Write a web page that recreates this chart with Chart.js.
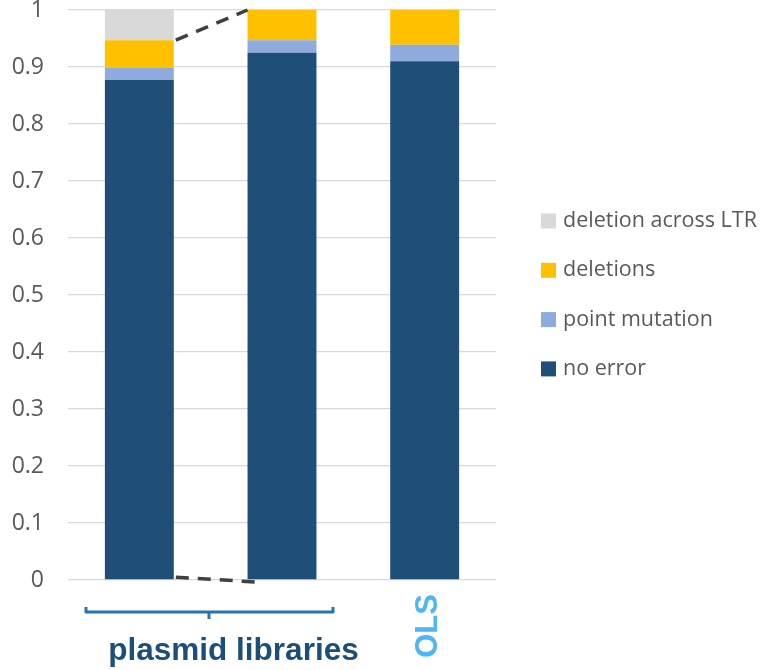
<!DOCTYPE html>
<html>
<head>
<meta charset="utf-8">
<script src="https://cdn.jsdelivr.net/npm/chart.js@4.4.1/dist/chart.umd.min.js"></script>
<style>
  html, body { margin: 0; padding: 0; background: #fff; }
  #wrap { position: relative; width: 770px; height: 670px; }
  canvas { position: absolute; left: 0; top: 0; }
</style>
</head>
<body>
<div id="wrap"><canvas id="c" width="770" height="670"></canvas></div>
<script>
const categories = ["plasmid 1", "plasmid 2", "OLS"];
const noError = [0.877, 0.925, 0.910];
const pointMutation = [0.022, 0.022, 0.029];
const deletions = [0.048, 0.053, 0.061];
const deletionAcrossLTR = [0.053, 0, 0];
const yTicks = [0, 0.1, 0.2, 0.3, 0.4, 0.5, 0.6, 0.7, 0.8, 0.9, 1];
const seriesNames = ["no error", "point mutation", "deletions", "deletion across LTR"];
const seriesColors = ["#1F4E79", "#8FAADC", "#FFC000", "#D9D9D9"];
const groupLabel = "plasmid libraries";
const olsLabel = "OLS";

const TEXT_GREY = "#595959";

const overlay = {
  id: "overlay",
  afterDatasetsDraw(chart) {
    const ctx = chart.ctx;
    const ys = chart.scales.y;
    const meta0 = chart.getDatasetMeta(0);
    const b1 = meta0.data[0], b2 = meta0.data[1];
    const b1r = b1.x + b1.width / 2, b2l = b2.x - b2.width / 2;
    const top1 = noError[0] + pointMutation[0] + deletions[0];
    ctx.save();
    ctx.strokeStyle = "#404040";
    ctx.lineWidth = 3.5;
    ctx.setLineDash([13, 9]);
    ctx.beginPath();
    ctx.moveTo(b1r + 2, ys.getPixelForValue(top1));
    ctx.lineTo(b2l, ys.getPixelForValue(1));
    ctx.stroke();
    ctx.beginPath();
    ctx.moveTo(b1r + 2, ys.getPixelForValue(0.005));
    ctx.lineTo(b2l + 13, ys.getPixelForValue(-0.004));
    ctx.stroke();
    ctx.restore();

    // legend
    ctx.save();
    ctx.font = "21.5px 'Open Sans'";
    ctx.textBaseline = "middle";
    const lx = 541, ly0 = 221, step = 49.3;
    for (let i = 0; i < 4; i++) {
      const si = 3 - i;
      const y = ly0 + i * step;
      ctx.fillStyle = seriesColors[si];
      ctx.fillRect(lx, y - 7.5, 15, 15);
      ctx.fillStyle = TEXT_GREY;
      ctx.fillText(seriesNames[si], lx + 22, y);
    }
    ctx.restore();

    // bracket
    const bl = 86, br = 333, by = 612;
    const bc = (bl + br) / 2 - 0.5;
    ctx.save();
    ctx.strokeStyle = "#2473B3";
    ctx.lineWidth = 3;
    ctx.lineJoin = "round";
    ctx.beginPath();
    ctx.moveTo(bl, by - 5);
    ctx.lineTo(bl, by);
    ctx.lineTo(br, by);
    ctx.lineTo(br, by - 5);
    ctx.moveTo(bc, by);
    ctx.lineTo(bc, by + 7);
    ctx.stroke();

    ctx.fillStyle = "#1B4F78";
    ctx.font = "bold 31.5px 'Liberation Sans'";
    ctx.textAlign = "center";
    ctx.textBaseline = "alphabetic";
    ctx.fillText(groupLabel, 233.5, 660);

    const meta2 = chart.getDatasetMeta(0).data[2];
    ctx.font = "bold 31px 'Liberation Sans'";
    ctx.translate(meta2.x + 12, 626);
    ctx.rotate(-Math.PI / 2);
    ctx.fillStyle = "#4DB6F7";
    ctx.textAlign = "center";
    ctx.textBaseline = "alphabetic";
    ctx.fillText(olsLabel, 0, 0);
    ctx.restore();
  }
};

new Chart(document.getElementById("c"), {
  type: "bar",
  data: {
    labels: categories,
    datasets: [noError, pointMutation, deletions, deletionAcrossLTR].map((d, i) => ({
      label: seriesNames[i],
      data: d,
      backgroundColor: seriesColors[i],
      borderWidth: 0,
      categoryPercentage: 1,
      barPercentage: 0.483
    }))
  },
  options: {
    responsive: false,
    animation: false,
    layout: { padding: { left: 0, right: 274, top: 10, bottom: 90 } },
    plugins: { legend: { display: false }, tooltip: { enabled: false } },
    scales: {
      x: { stacked: true, display: false },
      y: {
        stacked: true,
        min: 0, max: 1,
        afterBuildTicks(scale) { scale.ticks = yTicks.map(v => ({ value: v })); },
        afterFit(scale) { scale.width = 68; scale.paddingTop = 0; scale.paddingBottom = 0; },
        border: { display: false },
        grid: { color: "#D9D9D9", lineWidth: 1.3, drawTicks: false },
        ticks: {
          padding: 24,
          color: TEXT_GREY,
          font: { family: "'Open Sans'", size: 23 },
          callback: (v) => String(Math.round(v * 10) / 10)
        }
      }
    }
  },
  plugins: [overlay]
});
</script>
</body>
</html>
